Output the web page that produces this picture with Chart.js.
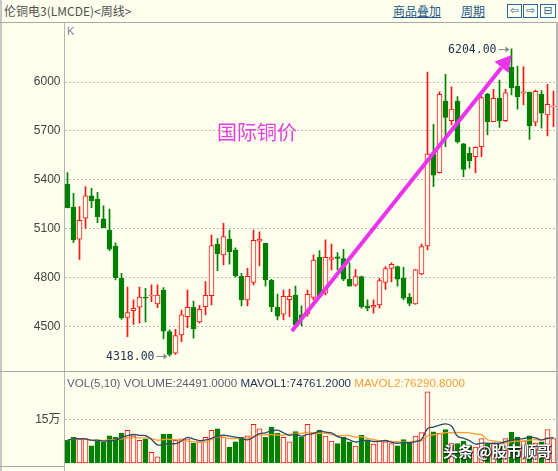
<!DOCTYPE html>
<html><head><meta charset="utf-8">
<script src="https://cdn.jsdelivr.net/npm/chart.js@4/dist/chart.umd.min.js"></script>
<style>
html,body{margin:0;padding:0;}
body{width:558px;height:471px;background:#ffffee;position:relative;overflow:hidden;font-family:"Liberation Sans",Arial,sans-serif;}
.ab{position:absolute;}
.ln{position:absolute;background:#a8a8a8;}
.lnk{position:absolute;top:4px;font:12px "Noto Sans CJK SC",sans-serif;color:#1c5a8a;text-decoration:underline;line-height:14px;}
.ico{position:absolute;top:4px;width:13px;height:12px;border:1px solid #2a6a9a;color:#2a6a9a;font:11px "DejaVu Sans";line-height:12px;text-align:center;}
</style></head>
<body>
<div class="ln" style="left:0;top:0;width:2px;height:471px;background:#c8c8c8"></div>
<div class="ln" style="left:0;top:22px;width:558px;height:1px"></div>
<div class="ln" style="left:64px;top:23px;width:1px;height:448px;background:#b4b4b4"></div>
<div class="ln" style="left:556px;top:23px;width:2px;height:448px;background:#b8b8b8"></div>
<div class="ln" style="left:0;top:371px;width:558px;height:1px"></div>
<div class="ln" style="left:0;top:466px;width:64px;height:1px"></div>
<div class="ab" style="left:4px;top:3px;font:12px 'Noto Sans CJK SC',sans-serif;color:#505050;line-height:16px">伦铜电3(LMCDE)&lt;周线&gt;</div>
<div class="lnk" style="left:393px">商品叠加</div>
<div class="lnk" style="left:461px">周期</div>
<div class="ico" style="left:507px">⇦</div>
<div class="ico" style="left:523px">⇨</div>
<div class="ico" style="left:540px;width:14px">⊟</div>
<div class="ab" style="left:67px;top:25px;font:11px 'Liberation Sans';color:#8080a0">K</div>
<canvas id="price" class="ab" style="left:0;top:23px" width="557" height="347"></canvas>
<canvas id="vol" class="ab" style="left:0;top:374px" width="557" height="90"></canvas>
<div class="ab" style="left:67px;top:375px;font:11.6px 'Liberation Sans';white-space:nowrap;line-height:15px"><span style="color:#5a6070">VOL(5,10) VOLUME:24491.0000 </span><span style="color:#1e2e5a">MAVOL1:74761.2000 </span><span style="color:#ff9a30">MAVOL2:76290.8000</span></div>
<div class="ab" style="left:443px;top:440px;font:bold 15px 'Noto Sans CJK SC';color:#fff;text-shadow:0 0 2px #000,1px 1px 1px #222;white-space:nowrap">头条 @股市顺哥</div>
<script>
// ---- data (weekly LME copper) ----
const opens  = [5374,5233,5035,5164,5301,5280,5160,5092,4994,4796,4556,4597,4618,4681,4687,4638,4722,4468,4336,4448,
                4560,4618,4528,4621,4689,5006,4939,5037,4969,4808,4663,4771,5023,5010,4783,4618,4575,4664,4693,4571,
                4577,4679,4925,4704,4912,4928,4916,4790,4753,4806,4626,4618,4632,4771,4857,4867,4796,4679,4638,4822,
                4994,5558,5444,5883,5763,5883,5620,5563,5542,5603,5926,5756,5900,5763,6090,5975,5931,5937,5753,5925,
                5798,5847];
const highs  = [5444,5317,5235,5358,5348,5323,5241,5221,5014,4826,4742,4663,4742,4734,4755,4755,4738,4479,4483,4601,
                4724,4656,4630,4775,5061,5039,5133,5092,4983,4826,4857,5092,5080,5010,4790,4699,4724,4728,4748,4626,
                4724,4939,4965,5031,5006,4953,4974,4891,4851,4810,4663,4663,4796,4867,4891,4871,4863,4704,4851,5006,
                6061,5740,5939,6047,5971,5910,5624,5599,5603,5910,5931,5955,6012,5955,6204,6098,6094,5940,5951,5947,
                5986,5945];
const lows   = [5227,5014,4912,5102,5229,5137,5106,4965,4785,4544,4437,4513,4520,4528,4652,4615,4423,4318,4329,4407,
                4493,4428,4520,4571,4632,4842,4877,4883,4802,4626,4626,4755,4871,4748,4591,4540,4540,4560,4499,4503,
                4564,4663,4683,4693,4847,4847,4781,4748,4748,4612,4597,4581,4612,4728,4773,4748,4663,4626,4636,4816,
                4969,5358,5440,5603,5736,5624,5419,5471,5444,5542,5675,5756,5722,5756,5920,5833,5859,5648,5730,5716,
                5669,5726];
const closes = [5229,5031,5152,5301,5272,5174,5106,4975,4799,4554,4585,4612,4681,4673,4693,4693,4472,4329,4444,4571,
                4618,4485,4606,4691,4996,4945,5051,4959,4810,4663,4808,5029,5037,4785,4621,4564,4685,4685,4509,4546,
                4698,4908,4689,4925,4922,4918,4790,4748,4806,4621,4613,4630,4781,4855,4882,4790,4673,4642,4847,4990,
                5558,5429,5925,5783,5834,5634,5464,5517,5599,5904,5756,5900,5761,5934,5965,5910,5940,5730,5943,5808,
                5863,5853];
const volumes = [78000,88000,83000,83000,59000,78000,73000,93000,88000,103000,112000,93000,78000,83000,37000,21000,98000,98000,78000,83000,
                 83000,68000,73000,88000,112000,117000,88000,55000,73000,88000,93000,133000,117000,88000,123000,103000,88000,73000,108000,88000,
                 133000,104000,113000,92000,75000,67000,88000,73000,58000,95000,78000,65000,75000,73000,67000,59000,80000,69000,92000,104000,
                 244000,107000,102000,115000,67000,67000,75000,60000,55000,84000,67000,69000,65000,84000,105000,88000,75000,93000,69000,73000,
                 115000,84000];
const weeks = opens.map((_, i) => 'W' + (i + 1));
const priceTicks = [4500, 4800, 5100, 5400, 5700, 6000];
const volTicks = [150000];
const volTickLabels = ['15万'];

// VOL(5,10) indicator lines: moving averages of the volume series
function movingAvg(arr, n) {
  return arr.map((_, i) => { const s = arr.slice(Math.max(0, i - n + 1), i + 1); return s.reduce((a, b) => a + b, 0) / s.length; });
}
const mavol1 = movingAvg(volumes, 5);
const mavol2 = movingAvg(volumes, 10);

// ---- styles ----
const BG = '#ffffee', UP = '#ff1414', DOWN = '#008000';
const isUp = closes.map((c, i) => c >= opens[i]);

const yAxisFit = s => { s.width = 64; s.paddingTop = 0; s.paddingBottom = 0; };

function drawMark(ctx, px, py, text) {
  ctx.strokeStyle = '#8a8a8a'; ctx.fillStyle = '#8a8a8a'; ctx.lineWidth = 1;
  const yy = Math.round(py) + 0.5;
  ctx.beginPath(); ctx.moveTo(px - 13, yy); ctx.lineTo(px - 4, yy); ctx.stroke();
  ctx.beginPath(); ctx.moveTo(px - 2, yy); ctx.lineTo(px - 6, yy - 3); ctx.lineTo(px - 6, yy + 3); ctx.closePath(); ctx.fill();
  ctx.font = '11.5px "DejaVu Sans Mono"'; ctx.fillStyle = '#1e3050';
  ctx.textAlign = 'right'; ctx.textBaseline = 'middle';
  ctx.fillText(text, px - 15, yy + 1);
}

const priceNotes = {
  id: 'priceNotes',
  afterDatasetsDraw(chart) {
    const { ctx, scales: { x, y } } = chart;
    ctx.save();
    const iLow = lows.indexOf(Math.min(...lows));
    const iHigh = highs.indexOf(Math.max(...highs));
    drawMark(ctx, x.getPixelForValue(iLow), y.getPixelForValue(lows[iLow]), lows[iLow].toFixed(2));
    drawMark(ctx, x.getPixelForValue(iHigh), y.getPixelForValue(highs[iHigh]), highs[iHigh].toFixed(2));
    // hand-drawn annotation
    ctx.font = '20px "Noto Sans CJK SC"'; ctx.fillStyle = '#e23ee2';
    ctx.textAlign = 'left'; ctx.textBaseline = 'middle';
    ctx.fillText('国际铜价', x.getPixelForValue(24.9), y.getPixelForValue(5690));
    const x0 = x.getPixelForValue(37.4), y0 = y.getPixelForValue(4472);
    const x1 = x.getPixelForValue(74.0), y1 = y.getPixelForValue(6166);
    const dx = x1 - x0, dy = y1 - y0, L = Math.hypot(dx, dy), ux = dx / L, uy = dy / L;
    const bx = x1 - ux * 16, by = y1 - uy * 16;
    ctx.strokeStyle = '#ea33ea'; ctx.fillStyle = '#ea33ea'; ctx.lineWidth = 4; ctx.lineCap = 'butt';
    ctx.beginPath(); ctx.moveTo(x0, y0); ctx.lineTo(bx, by); ctx.stroke();
    ctx.beginPath(); ctx.moveTo(x1, y1); ctx.lineTo(bx - uy * 9, by + ux * 9); ctx.lineTo(bx + uy * 9, by - ux * 9); ctx.closePath(); ctx.fill();
    ctx.restore();
  }
};

new Chart(document.getElementById('price'), {
  type: 'bar',
  data: {
    labels: weeks,
    datasets: [
      { label: 'body', data: opens.map((o, i) => [o, closes[i]]), order: 0, grouped: false,
        backgroundColor: isUp.map(u => u ? BG : DOWN), borderColor: isUp.map(u => u ? UP : DOWN),
        borderWidth: 1, borderSkipped: false, barThickness: 5 },
      { label: 'wick', data: lows.map((l, i) => [l, highs[i]]), order: 1, grouped: false,
        backgroundColor: isUp.map(u => u ? UP : DOWN), borderWidth: 0, barThickness: 1 }
    ]
  },
  options: {
    responsive: false, animation: false, devicePixelRatio: 1,
    layout: { padding: { left: 0.5, right: 0.5, top: 0, bottom: 0 } },
    plugins: { legend: { display: false }, tooltip: { enabled: false } },
    scales: {
      x: { display: false, offset: true },
      y: { min: 4233, max: 6362, afterFit: yAxisFit,
           afterBuildTicks: s => { s.ticks = priceTicks.map(v => ({ value: v })); },
           ticks: { font: { family: 'Liberation Sans', size: 12 }, color: '#404040', padding: 4,
                    callback: v => String(v) },
           grid: { color: '#bcbcbc', drawTicks: false, lineWidth: 1 },
           border: { display: false, dash: [2, 2] } }
    }
  },
  plugins: [priceNotes]
});

new Chart(document.getElementById('vol'), {
  type: 'bar',
  data: {
    labels: weeks,
    datasets: [
      { type: 'line', label: 'MAVOL1', data: mavol1, borderColor: '#2c4868', borderWidth: 1.3, pointRadius: 0, tension: 0.4, order: 0 },
      { type: 'line', label: 'MAVOL2', data: mavol2, borderColor: '#ff9a30', borderWidth: 1.3, pointRadius: 0, tension: 0.4, order: 1 },
      { label: 'VOLUME', data: volumes, order: 2,
        backgroundColor: isUp.map(u => u ? BG : DOWN), borderColor: isUp.map(u => u ? UP : DOWN),
        borderWidth: 1, borderSkipped: false, barThickness: 5 }
    ]
  },
  options: {
    responsive: false, animation: false, devicePixelRatio: 1,
    layout: { padding: { left: 0.5, right: 0.5, top: 0, bottom: 0 } },
    plugins: { legend: { display: false }, tooltip: { enabled: false } },
    scales: {
      x: { display: false, offset: true },
      y: { min: -3430, max: 305500, afterFit: yAxisFit,
           afterBuildTicks: s => { s.ticks = volTicks.map(v => ({ value: v })); },
           ticks: { font: { family: "'Liberation Sans','Noto Sans CJK SC'", size: 12 }, color: '#404040', padding: 4,
                    callback: (v, i) => volTickLabels[i] },
           grid: { color: '#bcbcbc', drawTicks: false, lineWidth: 1 },
           border: { display: false, dash: [2, 2] } }
    }
  }
});
</script>
</body></html>
